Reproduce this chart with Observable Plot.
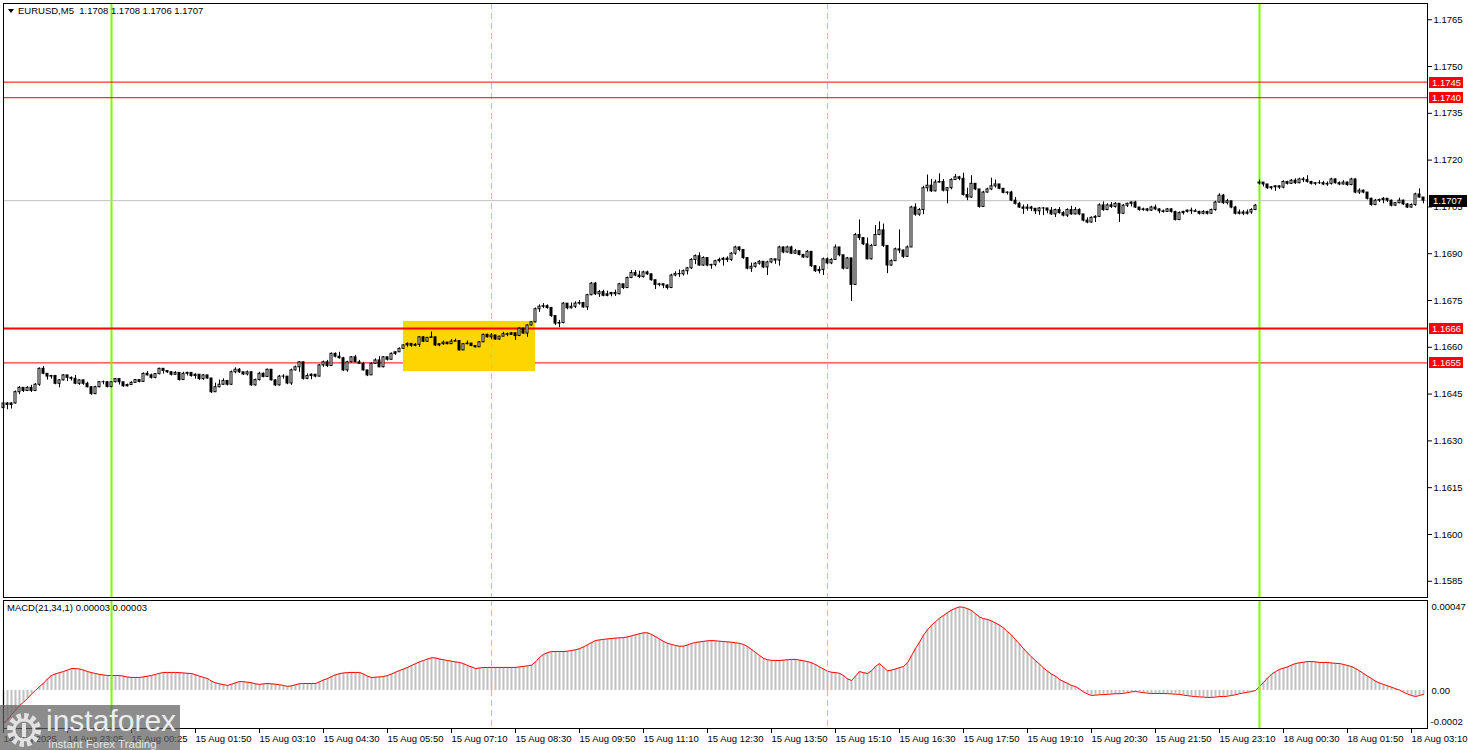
<!DOCTYPE html>
<html>
<head>
<meta charset="utf-8">
<script src="https://cdn.jsdelivr.net/npm/d3@7"></script>
<script src="https://cdn.jsdelivr.net/npm/@observablehq/plot@0.6"></script>
<style>
  html, body { margin: 0; padding: 0; background: #fff; }
  #wrap { position: relative; width: 1468px; height: 750px; overflow: hidden; font-family: "Liberation Sans", Arial, sans-serif; color: #000; }
  #main, #macd { position: absolute; left: 0; }
  #main { top: 0; }
  #macd { top: 598px; }
  .hdr { position: absolute; left: 18px; top: 5px; font-size: 9.5px; white-space: pre; line-height: 12px; }
  .tri { position: absolute; left: 8px; top: 9px; width: 0; height: 0; border-left: 3.5px solid transparent; border-right: 3.5px solid transparent; border-top: 4px solid #000; }
  .mlab { position: absolute; left: 7px; top: 602px; font-size: 9.5px; white-space: pre; line-height: 12px; }
  .tag { position: absolute; left: 1429px; height: 11px; line-height: 11px; font-size: 9.5px; color: #fff; padding-left: 3px; box-sizing: border-box; white-space: nowrap; }
  .logo { position: absolute; left: 0; top: 705px; width: 180px; height: 45px; background: rgba(95,95,95,0.72); }
  .logo .big { position: absolute; left: 46px; top: -1px; font-size: 30px; color: #ececec; letter-spacing: 0px; }
  .logo .small { position: absolute; left: 48px; top: 33px; font-size: 11.5px; color: #e6e6e6; }
  .logo svg { position: absolute; left: 4px; top: 5px; }
</style>
</head>
<body>
<div id="wrap">
  <div id="main"></div>
  <div id="macd"></div>
</div>
<script>
// ---------------- DATA ----------------
const symbolTitle = "EURUSD,M5  1.1708 1.1708 1.1706 1.1707";
const macdTitle = "MACD(21,34,1) 0.00003 0.00003";

const firstOpen = 1.16405;
const gapBars = [314];          // Monday open after the weekend
const gapOpens = [1.17125];

const closes = [
1.1642,1.16415,1.1642,1.16456,1.1647,1.1646,1.1647,1.1646,1.1648,1.16531,
1.16515,1.16506,1.16508,1.16483,1.16494,1.1651,1.16502,1.16499,1.16483,1.16494,
1.16483,1.16472,1.1645,1.16472,1.16488,1.16488,1.16473,1.16488,1.16498,1.16488,
1.16475,1.16479,1.16486,1.16495,1.16489,1.16515,1.1651,1.16502,1.16514,1.16531,
1.16524,1.1652,1.16512,1.16518,1.16495,1.16515,1.16518,1.16508,1.16512,1.16498,
1.1651,1.165,1.16456,1.16472,1.1648,1.16492,1.1648,1.1652,1.16528,1.1652,
1.16513,1.1652,1.16478,1.16495,1.16515,1.16505,1.16528,1.16494,1.16478,1.16506,
1.16506,1.16484,1.16526,1.16536,1.16552,1.16499,1.16508,1.16512,1.16506,1.16542,
1.16552,1.1654,1.16579,1.1657,1.16565,1.16526,1.16552,1.16568,1.16552,1.16547,
1.16526,1.1651,1.16547,1.16558,1.16536,1.16568,1.1656,1.16579,1.16584,1.16595,
1.16606,1.16611,1.16605,1.16608,1.16632,1.16618,1.1663,1.16632,1.16606,1.1661,
1.16615,1.1661,1.16618,1.1662,1.1659,1.1661,1.16612,1.16604,1.166,1.16616,
1.1664,1.16632,1.16638,1.16625,1.16634,1.16642,1.1664,1.16645,1.16636,1.1666,
1.16644,1.1667,1.1668,1.16722,1.1673,1.16732,1.16726,1.167,1.16676,1.16678,
1.1674,1.16725,1.1673,1.1674,1.16742,1.16728,1.16767,1.16804,1.1677,1.16777,
1.16765,1.1677,1.16774,1.1677,1.16802,1.1679,1.16822,1.16838,1.1683,1.16825,
1.1684,1.16834,1.16815,1.168,1.16802,1.16798,1.1679,1.1683,1.16835,1.16834,
1.16844,1.16853,1.1688,1.16892,1.16862,1.16886,1.16862,1.16864,1.16876,1.1688,
1.16884,1.1688,1.169,1.1692,1.16912,1.16886,1.16852,1.16858,1.16868,1.16874,
1.16856,1.16872,1.16882,1.16878,1.1692,1.16904,1.1692,1.169,1.16908,1.16896,
1.16888,1.16906,1.1686,1.16844,1.16848,1.16882,1.16869,1.1688,1.1692,1.16895,
1.16852,1.16885,1.168,1.1696,1.1695,1.1693,1.16882,1.16925,1.1696,1.16975,
1.16925,1.16862,1.16876,1.16914,1.1691,1.1689,1.1692,1.17048,1.17025,1.1704,
1.1711,1.17118,1.171,1.17128,1.1713,1.17102,1.1711,1.17136,1.17145,1.1714,
1.17088,1.1708,1.17124,1.17106,1.1705,1.17096,1.17106,1.17116,1.17122,1.17108,
1.17095,1.17096,1.1707,1.1706,1.17048,1.17044,1.17048,1.17044,1.17036,1.17045,
1.17045,1.17038,1.17026,1.1704,1.1703,1.17022,1.1704,1.17026,1.1704,1.17026,
1.17006,1.17,1.17015,1.17018,1.17055,1.1704,1.17055,1.1705,1.1706,1.17028,
1.17054,1.1706,1.17064,1.17048,1.1704,1.17042,1.17038,1.17048,1.17042,1.17036,
1.17034,1.17042,1.17034,1.17008,1.1703,1.17034,1.17038,1.17036,1.17034,1.17028,
1.17034,1.17028,1.1704,1.17064,1.17086,1.17062,1.17068,1.17048,1.17028,1.17032,
1.17028,1.17032,1.1704,1.17054,1.17128,1.17122,1.1711,1.17113,1.17116,1.17112,
1.1713,1.17124,1.17134,1.17126,1.17138,1.17136,1.1713,1.17124,1.17126,1.17126,
1.17122,1.17124,1.17138,1.17126,1.17122,1.17128,1.1712,1.17138,1.17096,1.17102,
1.17096,1.17076,1.17056,1.1707,1.17072,1.17076,1.1707,1.17054,1.17062,1.1707,
1.17058,1.17048,1.17056,1.1709,1.1708,1.1707
];

const highs = [
1.16424,1.16422,1.16422,1.1646,1.16474,1.1647,1.16474,1.16478,1.16484,1.16534,
1.16538,1.16512,1.1651,1.1651,1.16496,1.16512,1.1651,1.16505,1.1651,1.16496,
1.16495,1.16488,1.16474,1.16475,1.1649,1.16492,1.1649,1.1649,1.165,1.16499,
1.16488,1.16482,1.1649,1.16497,1.16496,1.16518,1.16522,1.16514,1.16516,1.16533,
1.1653,1.16525,1.16522,1.16522,1.16518,1.1652,1.1652,1.16518,1.16515,1.16512,
1.16512,1.1651,1.165,1.16485,1.16495,1.16499,1.16494,1.16524,1.16534,1.16532,
1.1652,1.16524,1.16522,1.16498,1.1652,1.16518,1.1653,1.16528,1.16496,1.1651,
1.16512,1.16506,1.1653,1.1654,1.16554,1.16552,1.16515,1.16515,1.16512,1.16545,
1.16556,1.16558,1.16582,1.16582,1.16584,1.16568,1.16555,1.1657,1.16574,1.16558,
1.16552,1.16526,1.1655,1.16563,1.1657,1.1657,1.16568,1.16582,1.16586,1.16598,
1.16608,1.16614,1.16612,1.16612,1.16634,1.16634,1.16632,1.16649,1.16632,1.16612,
1.1662,1.16616,1.16625,1.16626,1.1662,1.16612,1.1662,1.16612,1.16606,1.16618,
1.16642,1.16642,1.16644,1.16638,1.16636,1.16648,1.16646,1.16647,1.16642,1.16662,
1.1666,1.16672,1.16683,1.16726,1.16736,1.1674,1.16736,1.16728,1.167,1.16686,
1.16743,1.1674,1.16742,1.16746,1.1675,1.16744,1.1677,1.16808,1.16808,1.16782,
1.16783,1.1678,1.16776,1.16783,1.16805,1.16802,1.16825,1.16846,1.16846,1.16844,
1.16844,1.16844,1.16834,1.16815,1.16805,1.16803,1.168,1.16834,1.16842,1.16848,
1.16848,1.16856,1.16884,1.16896,1.16903,1.1689,1.16886,1.16866,1.16879,1.16886,
1.16888,1.1689,1.16904,1.16924,1.16922,1.16913,1.16886,1.1687,1.16872,1.16878,
1.16874,1.16876,1.16884,1.1688,1.16924,1.16922,1.16924,1.16924,1.16914,1.16908,
1.16898,1.1691,1.16906,1.16862,1.16858,1.16886,1.16886,1.16884,1.16928,1.1692,
1.16895,1.16888,1.16885,1.16965,1.17008,1.16952,1.1695,1.1693,1.1699,1.17002,
1.16995,1.16925,1.1688,1.16918,1.16976,1.16912,1.16925,1.17052,1.1706,1.17045,
1.17116,1.17152,1.17138,1.17136,1.17156,1.17138,1.17112,1.1714,1.17154,1.17148,
1.17158,1.1711,1.1715,1.17125,1.17106,1.171,1.1711,1.17142,1.17136,1.17122,
1.17108,1.17098,1.171,1.1708,1.17065,1.17056,1.17058,1.17052,1.17044,1.17048,
1.17048,1.17045,1.17048,1.17043,1.17048,1.17035,1.17044,1.17052,1.17048,1.17044,
1.17026,1.17015,1.17018,1.17022,1.1706,1.17066,1.1706,1.17064,1.17064,1.1706,
1.17058,1.17062,1.17066,1.17068,1.17048,1.17046,1.17045,1.17052,1.17056,1.17044,
1.1704,1.17045,1.17044,1.17036,1.17034,1.17036,1.1704,1.17046,1.17042,1.17036,
1.17038,1.17036,1.17043,1.17068,1.17092,1.1709,1.17074,1.17068,1.17052,1.1704,
1.17038,1.1704,1.17044,1.17058,1.17136,1.17124,1.1712,1.17115,1.17118,1.17118,
1.17134,1.17132,1.17138,1.1714,1.17142,1.17144,1.1715,1.17132,1.17128,1.17134,
1.17132,1.1713,1.17142,1.1714,1.1713,1.17134,1.1713,1.17142,1.1714,1.17108,
1.17104,1.17096,1.17078,1.17074,1.17075,1.1708,1.17072,1.17072,1.17064,1.17078,
1.17072,1.1706,1.1706,1.17094,1.17108,1.1708
];

const lows = [
1.16366,1.164,1.16402,1.16418,1.16448,1.16455,1.16458,1.16455,1.16458,1.16475,
1.16512,1.16495,1.16498,1.1648,1.1647,1.16492,1.1649,1.16492,1.1648,1.16478,
1.16478,1.1647,1.16446,1.16448,1.1647,1.1648,1.1647,1.1647,1.16486,1.16479,
1.16472,1.16473,1.16478,1.16485,1.16486,1.16488,1.16508,1.16498,1.16499,1.16512,
1.16514,1.16516,1.16508,1.1651,1.16492,1.16494,1.16508,1.16504,1.16498,1.16494,
1.16494,1.16498,1.16452,1.16455,1.1647,1.16478,1.16476,1.16478,1.16515,1.16516,
1.1651,1.16508,1.16475,1.16476,1.16492,1.16502,1.16503,1.16492,1.16474,1.16476,
1.16498,1.1648,1.16478,1.16524,1.1652,1.16495,1.16496,1.16496,1.16502,1.16505,
1.16536,1.16535,1.1654,1.16566,1.16562,1.16522,1.1652,1.1655,1.1655,1.16545,
1.16524,1.16506,1.1651,1.16546,1.16534,1.16534,1.16556,1.1656,1.16574,1.16584,
1.16594,1.166,1.166,1.16602,1.166,1.16615,1.16616,1.1663,1.16603,1.16602,
1.16606,1.16608,1.1661,1.16618,1.16588,1.1659,1.16608,1.16602,1.16598,1.166,
1.16615,1.1663,1.16624,1.16622,1.16622,1.1664,1.16634,1.16638,1.16622,1.16635,
1.16642,1.16632,1.16668,1.16678,1.16712,1.16724,1.16722,1.16696,1.1667,1.16663,
1.16675,1.1672,1.16723,1.16724,1.16735,1.16725,1.16718,1.16765,1.16766,1.1676,
1.16762,1.16762,1.16762,1.16763,1.16768,1.16785,1.16788,1.1682,1.16826,1.1682,
1.16822,1.1683,1.16812,1.16785,1.16794,1.16788,1.16784,1.16788,1.16826,1.16824,
1.16828,1.16832,1.1685,1.16865,1.1686,1.1686,1.16858,1.1685,1.16858,1.1687,
1.1686,1.16872,1.16875,1.16895,1.16906,1.16882,1.16848,1.1684,1.16854,1.16863,
1.16852,1.1683,1.16868,1.16866,1.1686,1.169,1.16902,1.16898,1.16898,1.16893,
1.16885,1.16886,1.16856,1.1684,1.16835,1.1683,1.16865,1.16865,1.16878,1.1689,
1.16848,1.16852,1.16747,1.16798,1.16942,1.16926,1.1688,1.1688,1.16924,1.16958,
1.1692,1.16836,1.1686,1.16875,1.169,1.16885,1.16888,1.1692,1.1702,1.1702,
1.17025,1.17098,1.17096,1.17098,1.17126,1.17098,1.1706,1.17105,1.17136,1.17134,
1.17085,1.1707,1.17078,1.17102,1.17046,1.17048,1.17094,1.17102,1.1711,1.17105,
1.17092,1.17088,1.17067,1.17056,1.17045,1.17026,1.17036,1.17035,1.17026,1.17023,
1.17022,1.17028,1.17023,1.17016,1.17027,1.17018,1.17016,1.17023,1.17024,1.17022,
1.17002,1.16996,1.16998,1.17,1.17016,1.17036,1.17038,1.17045,1.17046,1.17,
1.17026,1.17048,1.1705,1.17045,1.17036,1.17036,1.17034,1.17036,1.17038,1.17028,
1.1703,1.17032,1.1703,1.17005,1.17006,1.17024,1.1703,1.17026,1.17032,1.17024,
1.17025,1.17024,1.17026,1.17036,1.17062,1.17058,1.17056,1.17044,1.17024,1.17024,
1.17022,1.17024,1.17026,1.17038,1.1712,1.17114,1.17106,1.17104,1.171,1.17106,
1.17108,1.1712,1.17122,1.17122,1.17124,1.17128,1.17126,1.1712,1.17118,1.17122,
1.17118,1.17116,1.1712,1.17123,1.17118,1.1712,1.17116,1.17118,1.17092,1.1709,
1.17092,1.17072,1.17052,1.17054,1.17064,1.1706,1.17064,1.1705,1.17052,1.1706,
1.17055,1.17045,1.17046,1.17052,1.17078,1.1706
];

const macdValues = [
-18.5e-5,-16.5e-5,-13.5e-5,-11e-5,-8.5e-5,-6.5e-5,-4.5e-5,-2e-5,0,2.2e-5,
4e-5,6.5e-5,8.4e-5,9.3e-5,10e-5,10.6e-5,11.4e-5,12.3e-5,12.3e-5,12e-5,
11.4e-5,10.6e-5,10e-5,9.5e-5,9e-5,8.7e-5,8.4e-5,8.4e-5,8.4e-5,8.4e-5,
8e-5,7.5e-5,7.3e-5,7.3e-5,7.3e-5,7.6e-5,8e-5,8.4e-5,9e-5,9.6e-5,
10.1e-5,10.1e-5,10.1e-5,10.1e-5,10e-5,9.8e-5,9.6e-5,9.5e-5,8.8e-5,8e-5,
7.3e-5,6.7e-5,5.2e-5,4.3e-5,3.7e-5,3.3e-5,2.8e-5,3.5e-5,4.3e-5,5e-5,
4.9e-5,4.6e-5,4.3e-5,3.7e-5,3.4e-5,3.7e-5,3.9e-5,3.7e-5,3.5e-5,3.2e-5,
2.8e-5,2.3e-5,2.6e-5,3.2e-5,3.8e-5,3.9e-5,3.9e-5,3.9e-5,3.9e-5,4.8e-5,
5.9e-5,6.7e-5,7.8e-5,8.8e-5,9.4e-5,9.8e-5,10e-5,10.1e-5,10.1e-5,10.1e-5,
9.2e-5,8e-5,7.3e-5,7.4e-5,7.6e-5,7.8e-5,8.4e-5,9.2e-5,10.2e-5,11.2e-5,
12e-5,12.9e-5,14e-5,15e-5,16e-5,16.8e-5,17.6e-5,18.3e-5,18.2e-5,17.6e-5,
17.2e-5,16.8e-5,16.4e-5,16e-5,15.7e-5,15e-5,14e-5,13.2e-5,12.3e-5,12.6e-5,
12.9e-5,12.9e-5,12.9e-5,12.9e-5,12.9e-5,12.9e-5,12.9e-5,12.9e-5,12.9e-5,13.2e-5,
13.5e-5,13.8e-5,14.2e-5,16e-5,18.5e-5,20.2e-5,21.2e-5,21.8e-5,21.8e-5,21.8e-5,
21.8e-5,22e-5,22.4e-5,22.8e-5,23.4e-5,24.4e-5,25.6e-5,26.8e-5,28e-5,28.3e-5,
28.6e-5,28.9e-5,29.1e-5,29.3e-5,29.5e-5,29.6e-5,30e-5,30.6e-5,31.2e-5,31.8e-5,
32.3e-5,32.3e-5,31.4e-5,30.2e-5,28.8e-5,27.5e-5,26.4e-5,25.8e-5,25.2e-5,24.8e-5,
24.8e-5,25.5e-5,26.3e-5,26.9e-5,27.2e-5,27.5e-5,27.8e-5,28e-5,27.8e-5,27.6e-5,
27.4e-5,27.2e-5,27e-5,26.7e-5,26.4e-5,25.8e-5,24.6e-5,23e-5,21.3e-5,19.6e-5,
18e-5,17.2e-5,16.9e-5,16.8e-5,16.8e-5,17e-5,17.2e-5,17.4e-5,17.4e-5,17e-5,
16.6e-5,16.2e-5,15.5e-5,14.5e-5,13.2e-5,12e-5,10.8e-5,10.2e-5,10e-5,9.6e-5,
8.4e-5,6.5e-5,5.6e-5,8e-5,10.6e-5,10e-5,9.5e-5,11e-5,13.5e-5,15e-5,
13e-5,11e-5,11.4e-5,12e-5,12.8e-5,13.4e-5,15.5e-5,19.5e-5,23.5e-5,27e-5,
31e-5,34e-5,36.5e-5,38.5e-5,40.5e-5,42e-5,43.6e-5,45e-5,46e-5,46.8e-5,
46.6e-5,45.8e-5,44.8e-5,43e-5,41.2e-5,40.2e-5,39.8e-5,39e-5,37.8e-5,36.6e-5,
35e-5,33e-5,31e-5,28.5e-5,26e-5,23.5e-5,21e-5,18.8e-5,16.7e-5,14.8e-5,
12.6e-5,10.8e-5,9.2e-5,8e-5,6.2e-5,5e-5,4e-5,2.8e-5,2.2e-5,0.8e-5,
-0.8e-5,-2e-5,-2.8e-5,-2.6e-5,-2.4e-5,-2.3e-5,-2.2e-5,-2e-5,-1.8e-5,-1.8e-5,
-1.6e-5,-1.2e-5,-0.8e-5,-0.6e-5,-0.9e-5,-1.2e-5,-1.5e-5,-1.7e-5,-1.7e-5,-1.7e-5,
-1.7e-5,-1.8e-5,-1.9e-5,-2.1e-5,-2.2e-5,-2.6e-5,-2.9e-5,-3.2e-5,-3.4e-5,-3.6e-5,
-3.7e-5,-3.9e-5,-3.9e-5,-3.7e-5,-3.4e-5,-3.4e-5,-3.2e-5,-2.8e-5,-2.4e-5,-1.8e-5,
-1.4e-5,-1e-5,-0.6e-5,0,2.2e-5,4.5e-5,7e-5,9e-5,10.5e-5,11.8e-5,
12.5e-5,13.2e-5,14.2e-5,15.1e-5,15.5e-5,15.8e-5,16.2e-5,16.2e-5,16e-5,15.7e-5,
15.7e-5,15.7e-5,15.4e-5,15.2e-5,15.1e-5,14.6e-5,14e-5,13.4e-5,12.3e-5,11e-5,
9.5e-5,8e-5,6.7e-5,5.2e-5,4.2e-5,3.4e-5,2.6e-5,1.8e-5,1e-5,0.2e-5,
-1e-5,-2e-5,-2.8e-5,-3.4e-5,-2.8e-5,-2.2e-5
];

// time axis (bar index of each label and its text)
const tickBars = [0,16,32,48,64,80,96,112,128,144,160,176,192,208,224,240,256,272,288,304,320,336,352];
const tickLabels = ["14 Aug 2025","14 Aug 23:05","15 Aug 00:25","15 Aug 01:50","15 Aug 03:10","15 Aug 04:30",
  "15 Aug 05:50","15 Aug 07:10","15 Aug 08:30","15 Aug 09:50","15 Aug 11:10","15 Aug 12:30","15 Aug 13:50",
  "15 Aug 15:10","15 Aug 16:30","15 Aug 17:50","15 Aug 19:10","15 Aug 20:30","15 Aug 21:50","15 Aug 23:10",
  "18 Aug 00:30","18 Aug 01:50","18 Aug 03:10"];

// price axis ticks
const priceTicks = [1.1585,1.1600,1.1615,1.1630,1.1645,1.1660,1.1675,1.1690,1.1705,1.1720,1.1735,1.1750,1.1765];
// MACD axis ticks
const macdTicks = [0.00047, 0, -0.0002];
const macdTickLabels = ["0.00047", "0.00", "-0.0002"];

// horizontal levels drawn on the chart
const levelPrices = [1.1745, 1.1740, 1.1666, 1.1655];
const levelThick = [false, false, true, false];
const currentPrice = 1.1707;

// vertical markers (bar index)
const dayStartBars = [27, 314];
const separatorBars = [122, 206];

// highlighted zone
const zoneBars = [100, 133];
const zonePrices = [1.16522, 1.16683];

// ---------------- BUILD ----------------
const bars = closes.map((c, i) => {
  const g = gapBars.indexOf(i);
  const o = i === 0 ? firstOpen : (g >= 0 ? gapOpens[g] : closes[i - 1]);
  return {i, o, c, h: Math.max(highs[i], o, c), l: Math.min(lows[i], o, c)};
});
const upBodies = bars.filter(d => d.c - d.o > 0.00005);
const macdData = macdValues.map((v, i) => ({i, v}));
const labelMap = new Map(tickBars.map((b, k) => [b, tickLabels[k]]));
const macdLabelMap = new Map(macdTicks.map((t, k) => [t, macdTickLabels[k]]));
const zone = [{x1: zoneBars[0], x2: zoneBars[1], y1: zonePrices[0], y2: zonePrices[1]}];
const thinLevels = levelPrices.filter((p, k) => !levelThick[k]);
const thickLevels = levelPrices.filter((p, k) => levelThick[k]);

const FONT = '"Liberation Sans", Arial, sans-serif';
const GREEN = "#7cfc00";
const DASH = "#a6dc6e";

const main = Plot.plot({
  width: 1468, height: 598,
  marginLeft: 3, marginRight: 41, marginTop: 3, marginBottom: 1,
  style: {fontFamily: FONT, fontSize: "9.5px", color: "#000", background: "transparent", overflow: "visible"},
  x: {domain: [0, 356], axis: null},
  y: {domain: [1.15798, 1.17702]},
  marks: [
    Plot.ruleY(thinLevels.filter(p => p < 1.166), {stroke: "#ff0000", strokeWidth: 1}),
    Plot.rect(zone, {x1: "x1", x2: "x2", y1: "y1", y2: "y2", fill: "#ffd500"}),
    Plot.ruleX(separatorBars, {stroke: DASH, strokeDasharray: "6,4", strokeWidth: 1}),
    Plot.ruleX(dayStartBars, {stroke: GREEN, strokeWidth: 2}),
    Plot.ruleY(thinLevels.filter(p => p >= 1.166), {stroke: "#ff0000", strokeWidth: 1}),
    Plot.ruleY(thickLevels, {stroke: "#ff0000", strokeWidth: 2}),
    Plot.ruleY([currentPrice], {stroke: "#c0c0c0", strokeWidth: 1}),
    Plot.ruleX(bars, {x: "i", y1: "l", y2: "h", stroke: "#000", strokeWidth: 1}),
    Plot.rect(bars, {x1: d => d.i - 0.375, x2: d => d.i + 0.375, y1: "o", y2: "c", fill: "#000", insetTop: -0.5, insetBottom: -0.5}),
    Plot.rect(upBodies, {x1: d => d.i - 0.125, x2: d => d.i + 0.125, y1: "o", y2: "c", fill: "#fff", insetTop: 0.5, insetBottom: 0.5}),
    Plot.axisY({anchor: "right", ticks: priceTicks, tickFormat: d3.format(".4f"), tickSize: 4, tickPadding: 2, label: null}),
    Plot.frame({stroke: "#000"})
  ]
});
document.getElementById("main").appendChild(main);

const macd = Plot.plot({
  width: 1468, height: 152,
  marginLeft: 3, marginRight: 41, marginTop: 2, marginBottom: 22,
  style: {fontFamily: FONT, fontSize: "9.5px", color: "#000", background: "transparent", overflow: "visible"},
  x: {domain: [0, 356]},
  y: {domain: [-0.000213, 0.000504]},
  marks: [
    Plot.rect(macdData, {x1: d => d.i - 0.125, x2: d => d.i + 0.375, y1: 0, y2: "v", fill: "#c0c0c0"}),
    Plot.line(macdData, {x: "i", y: "v", stroke: "#ff0000", strokeWidth: 1}),
    Plot.ruleX(separatorBars, {stroke: DASH, strokeDasharray: "6,4", strokeWidth: 1}),
    Plot.ruleX(dayStartBars, {stroke: GREEN, strokeWidth: 2}),
    Plot.axisX(tickBars, {anchor: "bottom", tickFormat: d => labelMap.get(d), tickSize: 5, tickPadding: 2, textAnchor: "start", label: null}),
    Plot.axisY(macdTicks.slice(0, 2), {anchor: "right", tickFormat: d => macdLabelMap.get(d), tickSize: 0, tickPadding: 4, label: null}),
    Plot.axisY(macdTicks.slice(2), {anchor: "right", tickFormat: d => macdLabelMap.get(d), tickSize: 0, tickPadding: 3, dy: -4, label: null}),
    Plot.frame({stroke: "#000"})
  ]
});
document.getElementById("macd").appendChild(macd);

// ---------------- OVERLAYS ----------------
const wrap = document.getElementById("wrap");
const yMain = main.scale("y");

function addDiv(cls, text, css) {
  const d = document.createElement("div");
  d.className = cls;
  d.textContent = text;
  Object.assign(d.style, css || {});
  wrap.appendChild(d);
  return d;
}

const tri = document.createElement("div"); tri.className = "tri"; wrap.appendChild(tri);
addDiv("hdr", symbolTitle);
addDiv("mlab", macdTitle);

levelPrices.forEach(p => {
  const y = yMain.apply(p);
  addDiv("tag", p.toFixed(4), {top: (y - 5) + "px", width: "34px", background: "#ff0000"});
});
{
  const y = yMain.apply(currentPrice);
  addDiv("tag", currentPrice.toFixed(4), {top: (y - 5.5) + "px", width: "38px", height: "12px", lineHeight: "12px", background: "#000", paddingLeft: "4px"});
}

// watermark
const logo = document.createElement("div");
logo.className = "logo";
logo.innerHTML = '<svg width="40" height="40" viewBox="0 0 40 40">' +
  '<circle cx="20" cy="20" r="14" fill="none" stroke="#e2e2e2" stroke-width="6" stroke-dasharray="4.2 3.1"/>' +
  '<circle cx="20" cy="20" r="10" fill="none" stroke="#e2e2e2" stroke-width="3"/>' +
  '<rect x="18" y="13" width="4" height="14" fill="#e2e2e2"/></svg>' +
  '<div class="big">instaforex</div><div class="small">Instant Forex Trading</div>';
wrap.appendChild(logo);
</script>
</body>
</html>
